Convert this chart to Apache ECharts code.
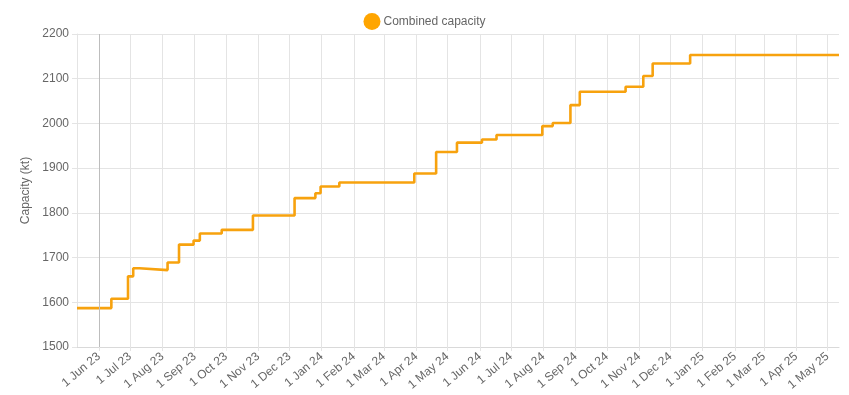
<!DOCTYPE html>
<html><head><meta charset="utf-8">
<script src="https://cdn.jsdelivr.net/npm/echarts@6/dist/echarts.min.js"></script>
<style>html,body{margin:0;padding:0;background:#fff}#c{width:849px;height:395px}</style>
</head><body><div id="c"></div>
<script>
const seriesName = 'Combined capacity';
const stepDates = ['2023-05-11','2023-06-13','2023-06-29','2023-07-04','2023-07-10','2023-08-06','2023-08-17','2023-08-31','2023-09-06','2023-09-27','2023-10-27','2023-12-06','2023-12-26','2023-12-31','2024-01-18','2024-03-30','2024-04-20','2024-05-10','2024-06-03','2024-06-17','2024-07-31','2024-08-10','2024-08-27','2024-09-05','2024-10-19','2024-11-05','2024-11-14','2024-12-20','2025-05-12'];
const stepValues = [1587,1608,1658,1676,1672,1689,1729,1738,1754,1762,1794,1833,1844,1859,1868,1888,1936,1957,1964,1974,1994,2001,2041,2071,2082,2106,2134,2153,2153];
const tickDates = ['2023-06-01','2023-07-01','2023-08-01','2023-09-01','2023-10-01','2023-11-01','2023-12-01','2024-01-01','2024-02-01','2024-03-01','2024-04-01','2024-05-01','2024-06-01','2024-07-01','2024-08-01','2024-09-01','2024-10-01','2024-11-01','2024-12-01','2025-01-01','2025-02-01','2025-03-01','2025-04-01','2025-05-01'];
const tickLabels = ['1 Jun 23','1 Jul 23','1 Aug 23','1 Sep 23','1 Oct 23','1 Nov 23','1 Dec 23','1 Jan 24','1 Feb 24','1 Mar 24','1 Apr 24','1 May 24','1 Jun 24','1 Jul 24','1 Aug 24','1 Sep 24','1 Oct 24','1 Nov 24','1 Dec 24','1 Jan 25','1 Feb 25','1 Mar 25','1 Apr 25','1 May 25'];
const yMin = 1500, yMax = 2200, yStep = 100;

function ts(s){ const p = s.split('-').map(Number); return Date.UTC(p[0], p[1]-1, p[2]); }
const tickTs = tickDates.map(ts);
const labelMap = {};
tickTs.forEach((t,i)=>{ labelMap[t] = tickLabels[i]; });
const data = stepDates.map((d,i)=>[ts(d), stepValues[i]]);

const font = "'Liberation Sans', Arial, sans-serif";
const chart = echarts.init(document.getElementById('c'), null, {renderer:'canvas'});
chart.setOption({
  animation:false,
  textStyle:{fontFamily:font},
  legend:{
    top:8, left:'center', icon:'circle', itemWidth:17, itemHeight:17, itemGap:4,
    textStyle:{color:'#666', fontSize:12, fontFamily:font, padding:[0,0,0,-2]},
    data:[seriesName]
  },
  grid:{left:77, right:10, top:34, bottom:48, containLabel:false},
  xAxis:{
    type:'value', min:ts(stepDates[0]), max:ts(stepDates[stepDates.length-1]),
    axisLine:{show:true, lineStyle:{color:'#d9d9d9'}},
    axisTick:{show:true, length:4, lineStyle:{color:'#e4e4e4'}, customValues:tickTs},
    axisLabel:{customValues:tickTs, rotate:40, color:'#666', fontSize:12, fontFamily:font, margin:8,
      formatter:function(v){ return labelMap[v] || ''; }},
    splitLine:{show:true, lineStyle:{color:'#e4e4e4'}}
  },
  yAxis:{
    type:'value', min:yMin, max:yMax, interval:yStep,
    name:'Capacity (kt)', nameLocation:'middle', nameGap:38, nameRotate:90,
    nameTextStyle:{color:'#666', fontSize:12, fontFamily:font},
    axisLine:{show:true, lineStyle:{color:'#e4e4e4'}},
    axisTick:{show:true, length:5, lineStyle:{color:'#e4e4e4'}},
    axisLabel:{color:'#666', fontSize:12, fontFamily:font, margin:8,
      formatter:function(v){ return String(v); }},
    splitLine:{show:true, lineStyle:{color:'#e4e4e4'}}
  },
  series:[{
    name:seriesName, type:'line', step:'end', data:data,
    showSymbol:false, symbol:'circle', symbolSize:8,
    itemStyle:{color:'#FFA500'},
    lineStyle:{color:'#F7A20E', width:2.6},
    markLine:{silent:true, symbol:'none', label:{show:false},
      lineStyle:{color:'#bdbdbd', type:'solid', width:1},
      data:[{xAxis:tickTs[0]}]},
    z:3
  }]
});
</script></body></html>
